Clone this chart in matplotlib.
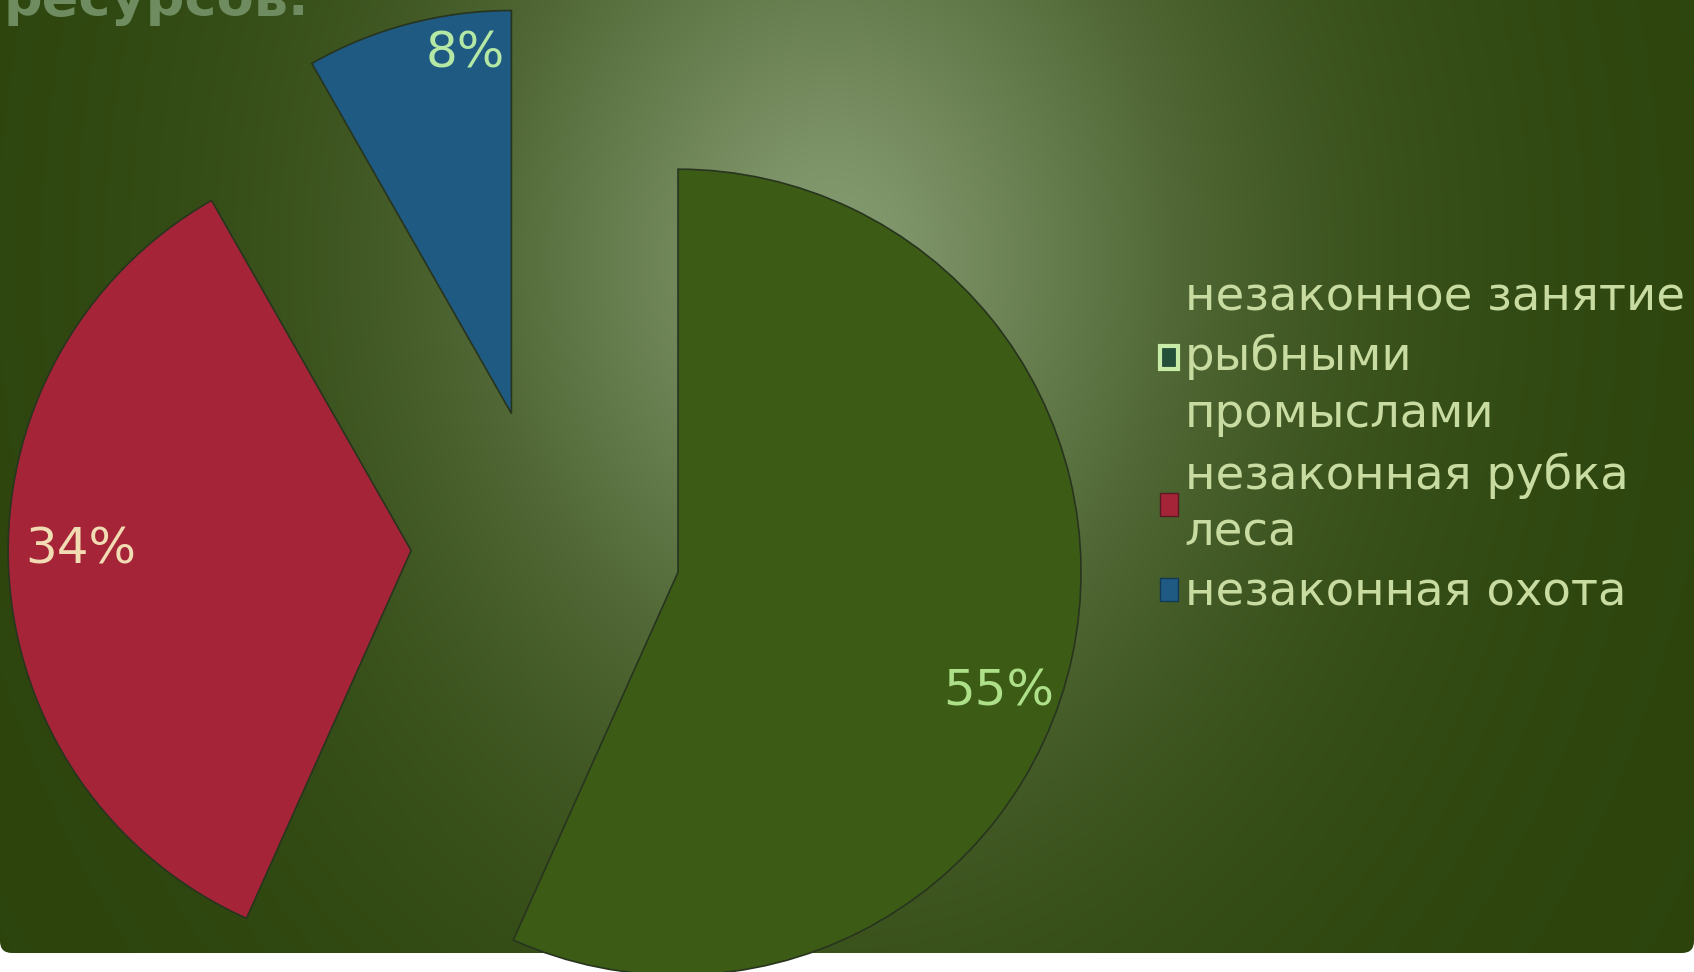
import numpy as np
import matplotlib.pyplot as plt
from matplotlib.patches import FancyBboxPatch, Patch

# data
categories = ["незаконное занятие\nрыбными\nпромыслами", "незаконная рубка\nлеса", "незаконная охота"]
values = [55, 34, 8]
colors = ["#3c5c16", "#a52438", "#1e5a82"]
label_colors = ["#aee08a", "#f2dcb4", "#b4e8a4"]
title = "ресурсов."

# where the percent labels sit (angle shift in degrees, distance as fraction of radius)
label_shift = [-8.3, -3.0, -7.5]
label_dist = [0.85, 0.82, 0.90]

W, H = 1694, 972
fig = plt.figure(figsize=(W / 100, H / 100), dpi=100)
fig.patch.set_facecolor("white")

# background: rounded panel with radial gradient
ax_bg = fig.add_axes([0, 0, 1, 1])
ax_bg.set_xlim(0, W)
ax_bg.set_ylim(0, H)
ax_bg.axis("off")
bottom = 19
yy, xx = np.mgrid[0:H - bottom, 0:W]
d = np.sqrt((xx - 830) ** 2 + ((yy - 260) / 1.25) ** 2)
t = 1 - np.exp(-(d / 380) ** 1.6)
light = np.array([132, 154, 112]) / 255
dark = np.array([44, 68, 12]) / 255
grad = light + (dark - light) * t[..., None]
im = ax_bg.imshow(grad, extent=(0, W, bottom, H), origin="upper", aspect="auto")
panel = FancyBboxPatch((0, bottom), W, H + 40, boxstyle="round,pad=0,rounding_size=12",
                       transform=ax_bg.transData, facecolor="none", edgecolor="none")
ax_bg.add_patch(panel)
im.set_clip_path(panel)

# pie
ax = fig.add_axes([0, 0, 1, 1])
ax.patch.set_alpha(0)
total = sum(values)
wedges, texts, autotexts = ax.pie(
    values, colors=colors, startangle=90, counterclock=False,
    explode=[0.335] * len(values), radius=1.0,
    autopct=lambda p: f"{p * total / 100:.0f}%", pctdistance=0.85,
    wedgeprops=dict(edgecolor="#28341e", linewidth=1.2),
    textprops=dict(fontsize=36),
)
cx, cy, r = 546, 544, 403  # pie centre and radius in pixels
ax.set_xlim(-cx / r, (W - cx) / r)
ax.set_ylim(-(H - cy) / r, cy / r)
ax.set_aspect("auto")
ax.axis("off")

for w, at, c, sh, dist in zip(wedges, autotexts, label_colors, label_shift, label_dist):
    th = np.deg2rad((w.theta1 + w.theta2) / 2 + sh)
    x0, y0 = w.center
    at.set_position((x0 + dist * np.cos(th), y0 + dist * np.sin(th)))
    at.set_color(c)
    at.set_ha("center")
    at.set_va("center")

# legend
handles = [Patch(facecolor="#24503a", edgecolor="#c8eca8", linewidth=3),
           Patch(facecolor=colors[1], edgecolor="#5a1a22", linewidth=1),
           Patch(facecolor=colors[2], edgecolor="#123a55", linewidth=1)]
leg = fig.legend(handles, categories, loc="upper left",
                 bbox_to_anchor=(1160 / W, 1 - 276 / H), frameon=False,
                 fontsize=33.5, handlelength=0.38, handleheight=0.38,
                 handletextpad=0.15, labelspacing=0.33, borderpad=0, borderaxespad=0)
for txt in leg.get_texts():
    txt.set_color("#c8dca2")
    txt.set_linespacing(1.34)

fig.text(4 / W, 1 - 15 / H, title, fontsize=39, fontweight="bold",
         color="#6e8c5f", va="baseline", ha="left")

fig.savefig("out.png", dpi=100)
